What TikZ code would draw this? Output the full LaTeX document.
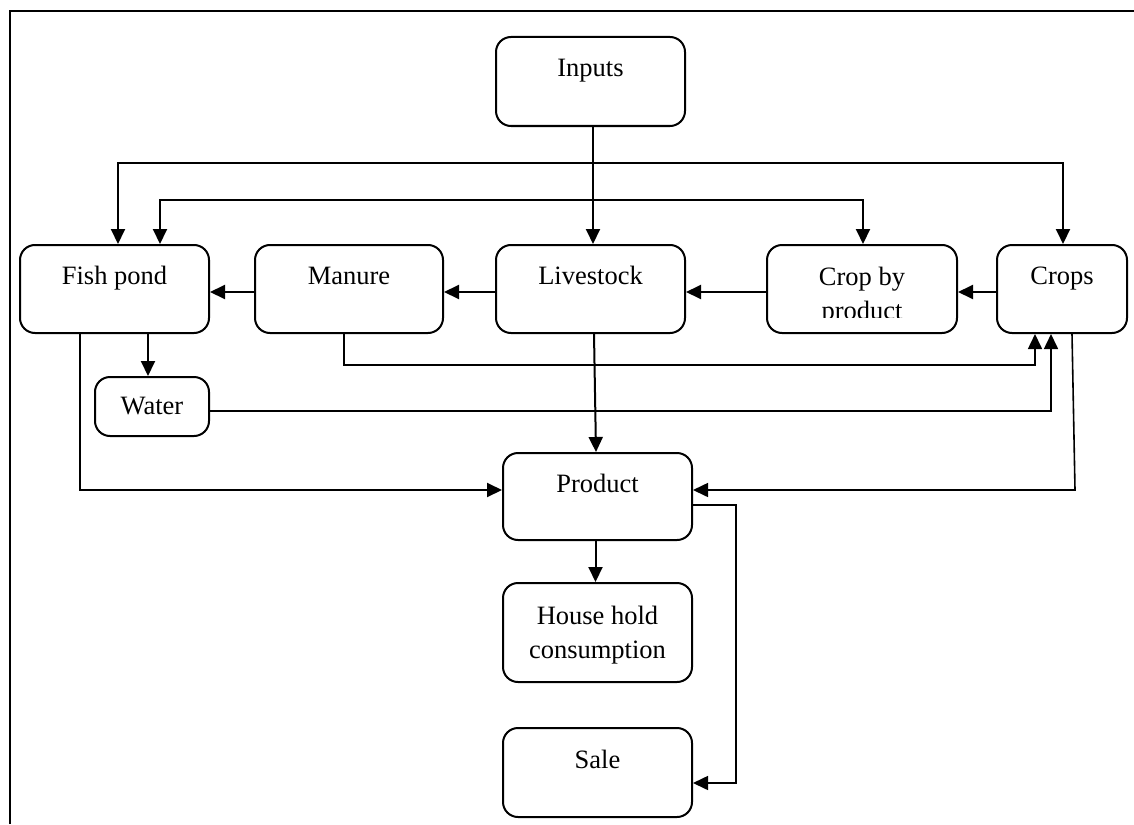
\documentclass[tikz,border=0pt]{standalone}
\usepackage{fontspec}
\setmainfont{Liberation Serif}
\usetikzlibrary{arrows.meta}

\begin{document}
\begin{tikzpicture}[x=1pt,y=-1pt,
  boxtext/.style={font=\fontsize{26.5}{34}\selectfont,align=center,inner sep=0pt,
    text height=20pt,text depth=29pt},
  box/.style={boxtext,draw,line width=2pt,rounded corners=15pt,
    minimum width=189pt,minimum height=88pt},
  conn/.style={line width=2pt,-{Triangle[length=15pt,width=14pt]}},
  thinconn/.style={conn,line width=1.6pt},
  both/.style={conn,{Triangle[length=15pt,width=14pt]}-{Triangle[length=15pt,width=14pt]}}]
\useasboundingbox (0,0) rectangle (1134,824);
% frame
\draw[line width=2.2pt] (10,824) -- (10,11) -- (1134,11);
% boxes
\node[box,minimum height=89pt] (inputs) at (590.5,81.5) {Inputs};
\node[box] (fish) at (114.5,289) {Fish pond};
\node[box,minimum width=188pt] (manure) at (349,289) {Manure};
\node[box] (livestock) at (590.5,289) {Livestock};
\node[box,minimum width=190pt] (cbp) at (862,289) {};
\begin{scope}
\clip (767,245) rectangle (957,317);
\node[boxtext,text height=64pt,text depth=4pt] (cbptext) at (cbp) {Crop by\\product};
\end{scope}
\node[box,minimum width=130pt] (crops) at (1062,289) {Crops};
\node[box,minimum width=114pt,minimum height=59pt,text depth=5pt] (water) at (152,406.5) {Water};
\node[box,minimum height=87pt] (product) at (597.5,496.5) {Product};
\node[box,minimum height=99pt,text height=60pt,text depth=9pt] (household) at (597.5,632.5) {House hold\\consumption};
\node[box,minimum height=89pt] (sale) at (597.5,772.5) {Sale};
% feed lines from the top
\coordinate (outer) at (600,163);
\coordinate (inner) at (600,200);
\draw[both] ([xshift=3.5pt]fish.north) |- (outer) -| ([xshift=1pt]crops.north);
\draw[both] ([xshift=45.5pt]fish.north) |- (inner) -| ([xshift=1pt]cbp.north);
\draw[conn] ([xshift=2.5pt]inputs.south) -- ([xshift=2.5pt]livestock.north);
% main row
\draw[conn] ([yshift=-3pt]crops.west) -- ([yshift=-3pt]cbp.east);
\draw[conn] ([yshift=-3pt]cbp.west) -- ([yshift=-3pt]livestock.east);
\draw[conn] ([yshift=-3pt]livestock.west) -- ([yshift=-3pt]manure.east);
\draw[conn] ([yshift=-3pt]manure.west) -- ([yshift=-3pt]fish.east);
% back to the crops
\draw[conn] ([xshift=-4pt]water.north |- fish.south) -- ([xshift=-4pt]water.north);
\draw[thinconn] ([xshift=-5pt]manure.south) -- ++(0,31) -| ([xshift=-27pt]crops.south);
\draw[thinconn] ([yshift=-4.5pt]water.east) -| ([xshift=-11pt]crops.south);
% to the product
\coordinate (cropsbend) at (1075,490);
\draw[conn] ([xshift=-34.5pt]fish.south) |- ([yshift=6.5pt]product.west);
\draw[thinconn] ([xshift=10pt]crops.south) -- (cropsbend) -- ([yshift=6.5pt]product.east);
\draw[conn] ([xshift=3.5pt]livestock.south) -- ([xshift=-1.5pt]product.north);
\draw[conn] ([xshift=-2pt]product.south) -- ([xshift=-2pt]household.north);
\draw[thinconn] ([yshift=-8.5pt]product.east) -- ++(43,0) |- ([yshift=-10.5pt]sale.east);
\end{tikzpicture}
\end{document}
